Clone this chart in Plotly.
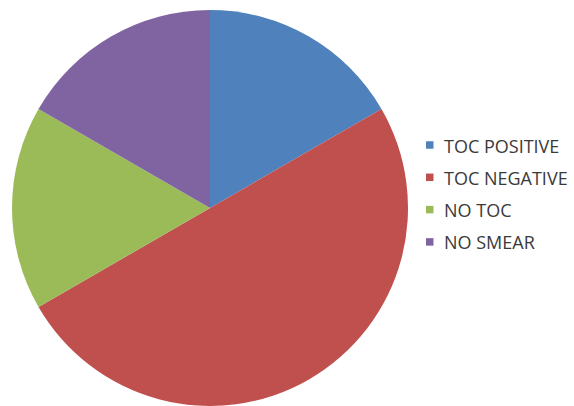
import plotly.graph_objects as go

# Share of cases by TOC result
labels = ["TOC POSITIVE", "TOC NEGATIVE", "NO TOC", "NO SMEAR"]
values = [1, 3, 1, 1]
colors = ["#4F81BD", "#C0504D", "#9BBB59", "#8064A2"]

W, H = 574, 406
cx, cy, r = 210, 208, 198

fig = go.Figure(
    go.Pie(
        labels=labels,
        values=values,
        sort=False,
        direction="clockwise",
        rotation=0,
        marker=dict(colors=colors, line=dict(width=0)),
        textinfo="none",
        hoverinfo="label+percent",
        showlegend=False,
        domain=dict(
            x=[(cx - r) / W, (cx + r) / W],
            y=[1 - (cy + r) / H, 1 - (cy - r) / H],
        ),
    )
)

# Legend drawn as small square swatches with text
leg_x = 426
leg_y0 = 145
leg_dy = 32.3
for i, (lab, col) in enumerate(zip(labels, colors)):
    yc = leg_y0 + i * leg_dy
    fig.add_shape(
        type="rect", xref="paper", yref="paper",
        x0=leg_x / W, x1=(leg_x + 7.5) / W,
        y0=1 - (yc + 3.75) / H, y1=1 - (yc - 3.75) / H,
        fillcolor=col, line=dict(width=0),
    )
    fig.add_annotation(
        xref="paper", yref="paper",
        x=(leg_x + 16) / W, y=1 - (yc + 0.5) / H,
        xanchor="left", yanchor="middle",
        text=lab, showarrow=False,
        font=dict(family="Open Sans", size=18, color="#3a3a3a"),
    )

fig.update_layout(
    width=W, height=H,
    margin=dict(l=0, r=0, t=0, b=0),
    paper_bgcolor="white",
    plot_bgcolor="white",
)

fig.write_html("out.html")
